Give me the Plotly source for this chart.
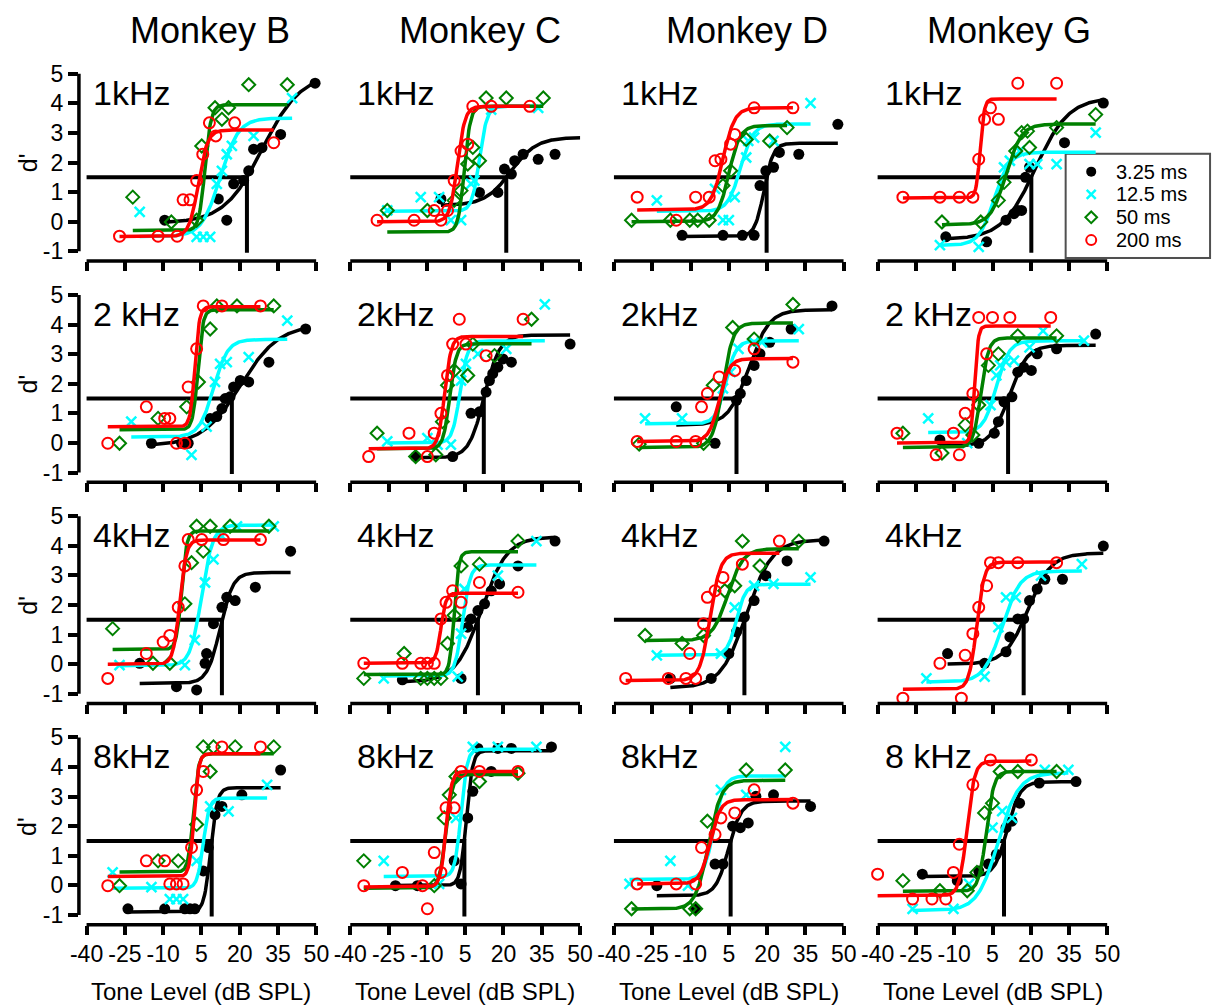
import numpy as np
import plotly.graph_objects as go

# ---------------------------------------------------------------- labels
MONKEYS = ["Monkey B", "Monkey C", "Monkey D", "Monkey G"]
PANEL_LABELS = [
    ["1kHz", "1kHz", "1kHz", "1kHz"],
    ["2 kHz", "2kHz", "2kHz", "2 kHz"],
    ["4kHz", "4kHz", "4kHz", "4kHz"],
    ["8kHz", "8kHz", "8kHz", "8 kHz"],
]
DURATIONS = ["3.25 ms", "12.5 ms", "50 ms", "200 ms"]
X_TICKS = [-40, -25, -10, 5, 20, 35, 50]
Y_TICKS = [-1, 0, 1, 2, 3, 4, 5]
X_TITLE = "Tone Level (dB SPL)"
Y_TITLE = "d'"
CRITERION = 1.5          # d' criterion used for threshold
FLOOR = -1.05            # lower end of the threshold drop line

# ---------------------------------------------------------------- data
# each panel: duration -> (tone levels dB SPL, d')
b_1k = {
    "3.25 ms": ([-9.4, 11.6, 14.9, 17.6, 21.5, 23.5, 25.4, 28.7, 36.0, 49.5],
                [0.05, 0.77, 0.05, 1.28, 1.39, 1.72, 2.45, 2.5, 2.95, 4.68]),
    "12.5 ms": ([-19.2, 3.1, 5.7, 8.4, 11.0, 13.0, 14.9, 16.9, 25.4, 40.5],
                [0.33, -0.51, -0.51, -0.51, 1.28, 1.72, 2.28, 2.56, 2.9, 4.18]),
    "50 ms": ([-21.9, -6.8, 3.1, 5.1, 10.3, 13.0, 15.6, 23.5, 38.6],
              [0.83, -0.01, 0.05, 2.56, 3.85, 3.46, 3.85, 4.63, 4.63]),
    "200 ms": ([-27.1, -12.0, -4.5, -2.2, 0.5, 3.1, 5.5, 8.1, 10.6, 18.0, 33.3],
               [-0.49, -0.49, -0.49, 0.74, 0.74, 1.39, 2.28, 3.34, 2.9, 3.34, 2.67]),
}
c_1k = {
    "3.25 ms": ([-4.5, 10.6, 17.8, 20.4, 23.1, 24.4, 27.7, 33.6, 40.2, 55.0],
                [0.77, 0.99, 0.99, 1.78, 1.61, 2.06, 2.28, 2.11, 2.28, 3.34]),
    "12.5 ms": ([-25.5, -12.4, -5.2, -0.6, 3.4, 7.3, 8.6, 15.2, 33.6],
                [0.38, 0.83, 0.83, 0.05, 0.05, 1.28, 1.39, 3.79, 3.85]),
    "50 ms": ([-25.5, -9.8, 0.7, 3.4, 6.0, 8.0, 10.6, 13.2, 21.1, 35.6],
              [0.38, 0.38, 0.72, 1.05, 1.95, 2.51, 2.06, 4.18, 4.18, 4.18]),
    "200 ms": ([-29.5, -15.0, -7.1, -4.5, -1.9, 0.7, 3.4, 6.0, 8.0, 15.2, 30.3],
               [0.05, 0.05, 0.38, 0.05, 0.38, 1.39, 2.39, 2.62, 3.9, 3.9, 3.9]),
}
d_1k = {
    "3.25 ms": ([-13.3, 2.7, 10.3, 14.9, 17.2, 19.5, 22.5, 24.8, 32.4, 47.7],
                [-0.46, -0.46, -0.46, -0.46, 1.22, 1.72, 1.84, 2.34, 2.28, 3.29]),
    "12.5 ms": ([-23.2, -0.4, 2.7, 5.0, 7.3, 11.8, 12.6, 14.9, 22.5, 37.0],
                [0.72, 1.11, 0.05, 0.05, 0.83, 2.17, 2.73, 2.84, 2.73, 4.01]),
    "50 ms": ([-33.1, -17.9, -10.3, -7.2, -2.7, 2.7, 5.7, 11.8, 21.0, 27.8],
              [0.05, 0.05, 0.05, 0.05, 0.05, 1.22, 1.72, 2.78, 2.73, 3.18]),
    "200 ms": ([-30.9, -15.6, -8.0, -2.7, -0.4, 1.9, 5.7, 7.3, 14.9, 30.1],
               [0.83, 0.05, 0.83, 0.83, 2.06, 2.11, 2.62, 2.95, 3.85, 3.85]),
}
g_1k = {
    "3.25 ms": ([-13.3, 2.7, 10.3, 13.4, 14.9, 16.4, 17.9, 19.5, 33.2, 48.4],
                [-0.51, -0.68, 0.05, 0.27, 0.38, 0.38, 1.5, 1.84, 2.67, 4.01]),
    "12.5 ms": ([-15.6, -0.4, 9.5, 11.8, 15.6, 19.5, 22.5, 30.1, 45.4],
                [-0.79, -0.85, 1.84, 2.06, 2.39, 1.95, 1.95, 1.95, 3.01]),
    "50 ms": ([-14.8, 0.4, 7.3, 9.5, 14.1, 16.4, 18.7, 19.5, 30.1, 45.4],
              [-0.01, -0.01, 0.72, 1.33, 2.39, 3.01, 3.06, 2.51, 3.18, 3.62]),
    "200 ms": ([-30.1, -15.6, -8.0, -2.7, -0.4, 1.9, 4.2, 7.3, 14.9, 30.1],
               [0.83, 0.83, 0.83, 0.83, 2.11, 3.46, 3.85, 3.46, 4.68, 4.68]),
}
b_2k = {
    "3.25 ms": ([-14.6, -2.8, -0.2, 8.4, 11.0, 13.0, 14.3, 16.2, 17.6, 20.2, 23.5, 31.4, 45.8],
                [-0.01, -0.01, -0.01, 0.83, 0.89, 1.16, 1.5, 1.56, 1.89, 2.11, 2.06, 2.73, 3.85]),
    "12.5 ms": ([-22.5, 1.1, 7.0, 10.3, 12.3, 14.9, 23.5, 38.6],
                [0.72, -0.4, 0.55, 2.06, 2.67, 2.73, 2.9, 4.13]),
    "50 ms": ([-27.1, -12.0, -0.8, 3.8, 8.4, 11.0, 18.9, 33.3],
              [-0.01, 0.83, 1.22, 2.06, 3.85, 4.63, 4.63, 4.63]),
    "200 ms": ([-31.7, -16.6, -9.4, -7.4, -4.8, -1.5, -0.2, 3.1, 5.7, 13.0, 28.1],
               [-0.01, 1.22, 0.83, 0.83, -0.01, -0.01, 1.89, 3.18, 4.63, 4.63, 4.63]),
}
c_2k = {
    "3.25 ms": ([-14.4, 0.1, 7.3, 10.6, 13.2, 14.5, 15.8, 17.8, 19.8, 23.1, 46.1],
                [-0.46, -0.46, 1.0, 1.05, 1.72, 2.11, 2.34, 2.56, 2.84, 2.73, 3.34]),
    "12.5 ms": ([-25.5, -9.8, -5.8, -0.6, 3.4, 5.3, 10.0, 21.1, 36.2],
                [0.05, 0.16, -0.06, -0.06, 2.11, 2.67, 3.01, 3.18, 4.68]),
    "50 ms": ([-29.5, -14.4, -6.5, -3.9, -1.9, 0.7, 6.0, 8.0, 16.5, 31.0],
              [0.33, -0.46, -0.4, 0.72, 1.95, 2.45, 2.28, 3.34, 2.95, 4.18]),
    "200 ms": ([-32.8, -17.0, -9.8, -7.1, -4.5, -1.9, 0.1, 2.7, 5.3, 13.2, 27.7],
               [-0.46, 0.33, -0.46, 0.33, 1.0, 2.28, 3.34, 4.18, 3.34, 2.95, 4.18]),
}
d_2k = {
    "3.25 ms": ([-15.6, -0.4, 8.0, 9.5, 11.8, 14.9, 17.2, 21.0, 29.4, 45.4],
                [1.22, -0.01, 1.44, 1.67, 2.11, 2.62, 3.01, 3.4, 3.85, 4.63]),
    "12.5 ms": ([-27.8, -13.3, 2.7, 5.7, 8.8, 14.9, 17.9, 32.4],
                [0.83, 0.83, 1.84, 2.39, 3.18, 3.4, 3.4, 3.85]),
    "50 ms": ([-30.1, -4.9, -1.1, 6.5, 14.9, 30.1],
              [-0.04, -0.01, 1.95, 3.9, 3.51, 4.68]),
    "200 ms": ([-30.9, -15.6, -8.0, -5.7, -3.4, 1.2, 7.3, 14.9, 30.1],
               [0.05, 0.05, 0.05, 1.22, 1.67, 2.23, 2.45, 3.18, 2.73]),
}
g_2k = {
    "3.25 ms": ([-15.6, -0.4, 5.7, 7.3, 9.5, 12.6, 14.9, 17.2, 20.2, 22.5, 30.1, 45.4],
                [0.1, -0.01, 0.33, 0.72, 1.39, 1.56, 2.39, 2.56, 2.45, 3.01, 3.18, 3.68]),
    "12.5 ms": ([-20.2, -4.9, 4.2, 6.5, 8.0, 10.3, 13.4, 19.5, 24.8, 40.8],
                [0.83, -0.01, 1.28, 2.28, 2.62, 2.73, 2.78, 3.23, 3.79, 3.46]),
    "50 ms": ([-30.1, -14.8, -5.7, -2.7, -0.4, 3.4, 7.3, 14.9, 30.1],
              [0.33, -0.34, 0.61, 0.27, 1.28, 2.62, 3.01, 3.62, 3.62]),
    "200 ms": ([-32.4, -17.1, -10.3, -8.0, -5.7, -2.7, 2.7, -0.4, 5.0, 11.8, 27.8],
               [0.33, -0.4, 0.33, -0.4, 1.0, 1.67, 3.01, 4.24, 4.24, 4.24, 4.24]),
}
b_4k = {
    "3.25 ms": ([-19.2, -4.8, 3.1, 6.4, 7.0, 9.7, 13.0, 14.9, 18.2, 26.1, 39.9],
                [0.03, -0.76, -0.87, 0.03, 0.36, 1.37, 1.92, 2.26, 2.15, 2.6, 3.82]),
    "12.5 ms": ([-27.1, -1.5, 2.4, 6.4, 9.7, 13.0, 18.9, 33.3],
                [-0.03, -0.03, 0.81, 2.76, 3.54, 4.33, 4.66, 4.66]),
    "50 ms": ([-29.8, -14.0, -7.4, -1.5, 1.1, 5.7, 3.1, 8.4, 16.2, 31.4],
              [1.2, 0.03, 0.03, 2.04, 3.43, 3.82, 4.66, 4.66, 4.66, 4.66]),
    "200 ms": ([-31.7, -16.6, -10.0, -7.4, -4.1, -1.5, -0.2, 5.1, 13.6, 28.1],
               [-0.48, 0.36, 0.75, 0.97, 1.92, 3.32, 4.21, 4.21, 4.21, 4.21]),
}
c_4k = {
    "3.25 ms": ([-19.6, 3.4, 6.0, 7.3, 10.0, 12.6, 15.2, 18.5, 25.7, 40.2],
                [-0.53, -0.48, 1.25, 1.53, 1.81, 2.04, 2.48, 2.71, 3.32, 4.16]),
    "12.5 ms": ([-26.9, 2.1, 3.4, 4.7, 17.8, 32.9],
                [-0.48, -0.42, 1.03, 2.54, 2.99, 4.16]),
    "50 ms": ([-34.7, -18.9, -12.4, -9.8, -7.1, -4.5, -1.9, 0.7, 3.4, 10.6, 25.7],
              [-0.48, 0.36, -0.48, -0.48, -0.48, -0.48, 0.7, 1.65, 3.32, 3.38, 4.16]),
    "200 ms": ([-34.7, -19.6, -12.4, -9.8, -7.1, -4.5, -2.5, 0.1, 3.4, 10.6, 25.7],
               [0.03, 0.03, 0.03, 0.03, 0.03, 1.53, 2.09, 2.48, 2.09, 2.76, 2.43]),
}
d_4k = {
    "3.25 ms": ([-17.9, -1.9, 5.0, 8.0, 11.1, 14.9, 19.5, 27.8, 42.3],
                [-0.48, -0.48, 0.36, 1.09, 1.59, 2.15, 2.99, 3.49, 4.16]),
    "12.5 ms": ([-23.2, 1.9, 7.3, 14.9, 22.5, 37.0],
                [0.3, 0.36, 1.92, 2.65, 2.71, 2.93]),
    "50 ms": ([-27.8, -13.3, -4.9, 3.4, 7.3, 17.2, 10.3, 32.4],
              [0.97, 0.7, 0.97, 2.48, 2.65, 3.32, 4.16, 4.16]),
    "200 ms": ([-35.4, -18.7, -11.8, -8.0, -10.3, -4.9, -3.4, -0.4, 2.7, 10.3, 24.8],
               [-0.48, -0.48, -0.48, -0.48, 0.36, 1.37, 2.26, 2.48, 2.93, 3.38, 4.16]),
}
g_4k = {
    "3.25 ms": ([-12.6, 1.9, 10.3, 11.8, 14.9, 17.2, 19.5, 22.5, 25.5, 32.4, 48.4],
                [0.36, 0.03, 0.42, 0.92, 1.53, 1.53, 2.15, 2.54, 2.87, 2.87, 3.99]),
    "12.5 ms": ([-20.9, 1.9, 7.3, 10.3, 14.1, 24.0, 40.0],
                [-0.48, -0.42, 1.25, 2.26, 2.26, 2.99, 3.38]),
    "200 ms": ([-30.1, -15.6, -7.2, -5.7, -2.7, -0.4, 2.7, 4.2, 7.3, 14.9, 30.1],
               [-1.15, 0.03, -1.15, 0.3, 1.03, 1.92, 2.65, 3.43, 3.43, 3.43, 3.43]),
}
b_8k = {
    "3.25 ms": ([-23.8, -9.4, -1.5, 0.5, 2.4, 5.7, 7.7, 10.3, 13.0, 20.8, 36.0],
                [-0.79, -0.79, -0.79, -0.79, -0.79, 0.49, 1.28, 2.39, 2.67, 3.06, 3.9]),
    "12.5 ms": ([-29.8, -14.6, -7.4, -4.8, -2.2, 3.1, 8.4, 15.6, 30.7],
                [0.44, -0.06, -0.46, -0.46, -0.46, 0.83, 2.67, 2.5, 3.4]),
    "50 ms": ([-27.1, -12.0, -4.1, 3.1, 8.4, 5.7, 9.7, 18.2, 33.3],
              [-0.01, 0.83, 0.83, 2.06, 3.85, 4.68, 4.68, 4.68, 4.68]),
    "200 ms": ([-31.7, -16.6, -9.4, -7.4, -4.8, -2.2, 1.1, 3.1, 5.7, 13.0, 28.1],
               [-0.01, 0.83, 0.83, 0.05, 0.05, 0.05, 1.28, 3.23, 3.85, 4.68, 4.68]),
}
c_8k = {
    "3.25 ms": ([-22.3, -13.7, 0.7, 3.4, 6.0, 8.0, 10.0, 15.2, 17.8, 23.1, 38.8],
                [-0.01, -0.01, 0.83, 0.05, 2.28, 3.18, 4.63, 3.85, 4.63, 4.63, 4.68]),
    "12.5 ms": ([-26.9, -5.2, 1.4, 8.0, 17.8, 32.9],
                [0.83, 0.05, 2.28, 4.68, 4.68, 4.68]),
    "50 ms": ([-34.7, -7.1, -3.2, -1.2, 1.4, 10.6, 25.7],
              [0.83, -0.01, 2.28, 3.06, 3.68, 3.51, 3.79]),
    "200 ms": ([-34.7, -19.6, -11.7, -9.8, -7.1, -4.5, -2.5, 0.7, 3.4, 10.6, 25.7],
               [-0.01, 0.44, -0.01, -0.79, 1.11, 0.44, 2.62, 2.62, 3.85, 3.85, 3.85]),
}
d_8k = {
    "3.25 ms": ([-23.2, -8.0, -0.4, 2.7, 6.5, 9.5, 12.6, 15.6, 22.5, 37.0],
                [-0.01, -0.79, 0.72, 0.72, 2.0, 1.95, 2.11, 3.01, 3.06, 2.67]),
    "12.5 ms": ([-33.9, -17.9, -11.0, 1.9, 11.8, 27.1],
                [0.05, 0.83, -0.01, 3.23, 3.06, 4.68]),
    "50 ms": ([-33.1, -10.3, -8.0, -3.4, 11.8, 27.1],
              [-0.79, -0.79, -0.79, 2.17, 3.9, 3.9]),
    "200 ms": ([-30.9, -15.6, -8.0, -5.7, -0.4, 1.9, 7.3, 14.9, 30.1],
               [0.05, 0.05, 0.05, 1.28, 1.72, 2.28, 2.45, 3.23, 2.78]),
}
g_8k = {
    "3.25 ms": ([-22.5, -8.8, -0.4, 3.4, 6.5, 10.3, 12.6, 15.6, 23.3, 37.7],
                [0.38, 0.16, 0.49, 0.72, 1.05, 1.95, 2.17, 2.78, 3.46, 3.51]),
    "12.5 ms": ([-26.3, -10.3, -4.2, 5.0, 8.8, 12.6, 25.5, 34.7],
                [-0.79, -0.79, 0.05, 1.95, 2.51, 2.28, 3.9, 3.9]),
    "50 ms": ([-30.1, -15.6, -4.9, -1.1, 1.9, 5.0, 8.0, 14.9, 30.1],
              [0.16, -0.18, -0.18, 0.44, 2.45, 2.78, 3.85, 3.85, 3.85]),
    "200 ms": ([-40.0, -26.3, -18.7, -13.3, -10.3, -8.0, -2.7, 4.2, 20.2],
               [0.38, -0.46, -0.46, -0.46, 0.44, 1.39, 3.4, 4.24, 4.24]),
}

# logistic fit parameters per panel: duration -> (floor, ceiling, midpoint dB, slope dB)
b_1k_fit = {"3.25 ms": (-0.05, 5.0, 28.9, 7.5), "12.5 ms": (-0.5, 3.5, 12.3, 3.6),
            "50 ms": (-0.3, 3.95, 6.4, 1.2), "200 ms": (-0.5, 3.1, 3.8, 1.8)}
c_1k_fit = {"3.25 ms": (0.55, 2.85, 22.9, 5.0), "12.5 ms": (0.35, 3.9, 10.6, 1.5),
            "50 ms": (-0.35, 3.9, 4.7, 1.2), "200 ms": (0.0, 3.9, 2.0, 1.5)}
d_1k_fit = {"3.25 ms": (-0.5, 2.65, 18.8, 1.8), "12.5 ms": (0.35, 3.3, 9.6, 2.5),
            "50 ms": (0.0, 3.25, 5.0, 2.2), "200 ms": (0.4, 3.85, 2.7, 2.3)}
g_1k_fit = {"3.25 ms": (-0.6, 4.2, 21.8, 6.5), "12.5 ms": (-0.8, 2.35, 5.7, 3.0),
            "50 ms": (-0.1, 3.3, 10.3, 3.0), "200 ms": (0.8, 4.15, 0.2, 0.8)}
b_2k_fit = {"3.25 ms": (-0.1, 4.0, 20.3, 7.5), "12.5 ms": (0.2, 3.5, 9.7, 2.8),
            "50 ms": (0.45, 4.5, 3.6, 1.0), "200 ms": (0.55, 4.6, 2.4, 0.9)}
c_2k_fit = {"3.25 ms": (-0.5, 3.65, 12.5, 3.0), "12.5 ms": (0.0, 3.45, 3.0, 1.5),
            "50 ms": (-0.2, 3.35, -1.0, 1.3), "200 ms": (-0.2, 3.6, -3.0, 1.3)}
d_2k_fit = {"3.25 ms": (0.6, 4.5, 12.8, 4.0), "12.5 ms": (0.65, 3.45, 3.8, 2.0),
            "50 ms": (-0.15, 4.05, 2.7, 2.0), "200 ms": (0.05, 2.85, 1.2, 2.0)}
g_2k_fit = {"3.25 ms": (-0.1, 3.3, 11.5, 3.5), "12.5 ms": (0.35, 3.45, 6.5, 2.5),
            "50 ms": (-0.15, 3.55, 0.5, 1.5), "200 ms": (0.0, 3.95, -2.0, 0.7)}
b_4k_fit = {"3.25 ms": (-0.65, 3.1, 12.3, 2.5), "12.5 ms": (-0.05, 4.7, 5.1, 2.2),
            "50 ms": (0.5, 4.5, -2.8, 1.0), "200 ms": (0.0, 4.2, -3.5, 1.3)}
c_4k_fit = {"3.25 ms": (-0.6, 4.3, 11.4, 5.0), "12.5 ms": (-0.4, 3.35, 4.0, 1.5),
            "50 ms": (-0.35, 3.8, 0.7, 0.9), "200 ms": (0.03, 2.4, -4.5, 1.0)}
d_4k_fit = {"3.25 ms": (-0.8, 4.2, 11.9, 5.0), "12.5 ms": (0.3, 2.7, 8.0, 1.8),
            "50 ms": (0.8, 3.9, 4.6, 3.0), "200 ms": (-0.55, 3.75, -2.3, 2.0)}
g_4k_fit = {"3.25 ms": (0.0, 3.75, 19.0, 4.5), "12.5 ms": (-0.6, 3.15, 8.7, 3.5),
            "200 ms": (-0.85, 3.45, -1.2, 1.5)}
b_8k_fit = {"3.25 ms": (-0.9, 3.3, 8.6, 1.3), "12.5 ms": (-0.1, 2.95, 5.7, 1.2),
            "50 ms": (0.45, 4.45, 1.8, 1.0), "200 ms": (0.3, 4.45, 2.1, 0.9)}
c_8k_fit = {"3.25 ms": (0.0, 4.55, 5.5, 1.2), "12.5 ms": (0.3, 4.6, 3.4, 1.2),
            "50 ms": (-0.1, 3.75, -2.5, 1.3), "200 ms": (-0.05, 3.85, -2.5, 1.1)}
d_8k_fit = {"3.25 ms": (-0.35, 2.85, 4.9, 2.5), "12.5 ms": (0.2, 3.7, -0.8, 2.0),
            "50 ms": (-0.8, 3.55, -3.0, 2.5), "200 ms": (0.05, 2.9, -2.3, 2.0)}
g_8k_fit = {"3.25 ms": (0.3, 3.5, 10.8, 2.5), "12.5 ms": (-0.85, 3.8, 7.2, 4.0),
            "50 ms": (-0.2, 3.85, 2.6, 1.5), "200 ms": (-0.35, 4.2, -5.0, 1.5)}

# threshold (dB SPL) of the 3.25 ms function at d' = 1.5, rows = frequency, cols = monkey
THRESHOLDS = [
    [22.8, 21.1, 19.8, 20.2],
    [16.9, 12.3, 8.0, 11.1],
    [13.0, 10.0, 11.1, 17.2],
    [9.0, 4.7, 5.7, 9.5],
]

PANELS = [
    [b_1k, c_1k, d_1k, g_1k],
    [b_2k, c_2k, d_2k, g_2k],
    [b_4k, c_4k, d_4k, g_4k],
    [b_8k, c_8k, d_8k, g_8k],
]
FITS = [
    [b_1k_fit, c_1k_fit, d_1k_fit, g_1k_fit],
    [b_2k_fit, c_2k_fit, d_2k_fit, g_2k_fit],
    [b_4k_fit, c_4k_fit, d_4k_fit, g_4k_fit],
    [b_8k_fit, c_8k_fit, d_8k_fit, g_8k_fit],
]

# ---------------------------------------------------------------- styling
FONT = "Liberation Sans, Arial, Helvetica, sans-serif"
W, H = 1225, 1007
COLORS = {"3.25 ms": "#000000", "12.5 ms": "#00FFFF", "50 ms": "#008000", "200 ms": "#FF0000"}
MARKERS = {
    "3.25 ms": dict(symbol="circle", size=11, color="#000000", line=dict(width=0)),
    "12.5 ms": dict(symbol="x-thin", size=10, color="#00FFFF",
                    line=dict(width=2.5, color="#00FFFF")),
    "50 ms": dict(symbol="diamond-open", size=10, color="#008000", line=dict(width=2)),
    "200 ms": dict(symbol="circle-open", size=11, color="#FF0000", line=dict(width=2)),
}
AXIS_W = 3.5
X_RANGE = [-43, 50]
Y_RANGE = [-1.33, 5.25]

# pixel geometry of the grid
COL_X40 = 79.0       # pixel of -40 dB in the first column
COL_STEP = 268.5
PX_PER_DB = 2.6
ROW_Y5 = 69.3        # pixel of d' = 5 in the first row
ROW_STEP = 223.0
PX_PER_D = 29.83


def px(xp):
    return xp / W


def py(yp):
    return 1 - yp / H


def logistic(x, lo, hi, mid, slope):
    return lo + (hi - lo) / (1.0 + np.exp(-(x - mid) / slope))


fig = go.Figure()
layout = {}
shapes = []
annotations = []

for r in range(4):
    y5 = ROW_Y5 + ROW_STEP * r
    top = y5 - (Y_RANGE[1] - 5) * PX_PER_D
    bottom = y5 + (5 - Y_RANGE[0]) * PX_PER_D
    for c in range(4):
        n = r * 4 + c + 1
        sx = "" if n == 1 else str(n)
        x40 = COL_X40 + COL_STEP * c
        left = x40 - (-40 - X_RANGE[0]) * PX_PER_DB
        right = x40 + (X_RANGE[1] + 40) * PX_PER_DB

        bottom_row = r == 3
        layout["xaxis" + sx] = dict(
            domain=[px(left), px(right)], range=X_RANGE, anchor="y" + sx,
            showgrid=False, zeroline=False, showline=False,
            ticks="outside", ticklen=9, tickwidth=AXIS_W, tickcolor="black",
            tickmode="array", tickvals=X_TICKS, ticktext=[str(v) for v in X_TICKS],
            showticklabels=bottom_row, tickfont=dict(size=23, family=FONT, color="black"),
            fixedrange=True,
        )
        first_col = c == 0
        layout["yaxis" + sx] = dict(
            domain=[py(bottom), py(top)], range=Y_RANGE, anchor="x" + sx,
            showgrid=False, zeroline=False, showline=False,
            ticks="outside" if first_col else "", ticklen=10, tickwidth=AXIS_W,
            tickcolor="black", tickmode="array", tickvals=Y_TICKS,
            ticktext=[str(v) for v in Y_TICKS], showticklabels=first_col,
            tickfont=dict(size=23, family=FONT, color="black"), fixedrange=True,
        )

        # x axis line from -40 to 50 along the bottom of the panel
        shapes.append(dict(type="line", xref="x" + sx, yref="y" + sx + " domain",
                           x0=X_TICKS[0], x1=X_TICKS[-1], y0=0, y1=0,
                           line=dict(color="black", width=AXIS_W)))
        if first_col:
            shapes.append(dict(type="line", xref="x" + sx + " domain", yref="y" + sx,
                               x0=0, x1=0, y0=Y_TICKS[0], y1=Y_TICKS[-1],
                               line=dict(color="black", width=AXIS_W)))

        # threshold criterion and drop line
        thr = THRESHOLDS[r][c]
        fig.add_trace(go.Scatter(
            x=[X_TICKS[0], thr, thr], y=[CRITERION, CRITERION, FLOOR],
            mode="lines", line=dict(color="black", width=4),
            xaxis="x" + sx, yaxis="y" + sx, showlegend=False, hoverinfo="skip"))

        panel = PANELS[r][c]
        fits = FITS[r][c]
        for dur in DURATIONS:
            if dur not in panel:
                continue
            xs, ys = panel[dur]
            lo, hi, mid, slope = fits[dur]
            xf = np.linspace(min(xs), max(xs), 200)
            fig.add_trace(go.Scatter(
                x=xf, y=logistic(xf, lo, hi, mid, slope), mode="lines",
                line=dict(color=COLORS[dur], width=3.5),
                xaxis="x" + sx, yaxis="y" + sx, showlegend=False, hoverinfo="skip"))
            fig.add_trace(go.Scatter(
                x=xs, y=ys, mode="markers", marker=MARKERS[dur], name=dur,
                xaxis="x" + sx, yaxis="y" + sx, showlegend=False, cliponaxis=False))

        # frequency label inside each panel
        annotations.append(dict(
            text=PANEL_LABELS[r][c], xref="paper", yref="paper",
            x=px(x40 + 5), y=py(y5 + 19), xanchor="left", yanchor="middle",
            showarrow=False, font=dict(size=34, family=FONT, color="black")))

        if bottom_row:
            annotations.append(dict(
                text=X_TITLE, xref="paper", yref="paper",
                x=px(x40 + 117), y=py(994), xanchor="center", yanchor="middle",
                showarrow=False, font=dict(size=24, family=FONT, color="black")))
        if first_col:
            annotations.append(dict(
                text=Y_TITLE, xref="paper", yref="paper", textangle=-90,
                x=px(19), y=py(y5 + 89.5), xanchor="center", yanchor="middle",
                showarrow=False, font=dict(size=25, family=FONT, color="black")))

# monkey titles
TITLE_X = [205, 480, 752, 1018]
for c, name in enumerate(MONKEYS):
    annotations.append(dict(
        text=name, xref="paper", yref="paper", x=px(TITLE_X[c]), y=py(26),
        xanchor="center", yanchor="middle", showarrow=False,
        font=dict(size=36, family=FONT, color="black")))

# legend box with its own pixel-unit axes
LEG = dict(x0=1077, x1=1222, y0=151, y1=254)
shapes.append(dict(type="rect", xref="paper", yref="paper", layer="below",
                   x0=px(LEG["x0"]), x1=px(LEG["x1"]), y0=py(LEG["y1"]), y1=py(LEG["y0"]),
                   fillcolor="white", line=dict(color="#505050", width=4)))
layout["xaxis17"] = dict(domain=[px(LEG["x0"]), px(LEG["x1"])], range=[LEG["x0"], LEG["x1"]],
                         visible=False, anchor="y17", fixedrange=True)
layout["yaxis17"] = dict(domain=[py(LEG["y1"]), py(LEG["y0"])], range=[LEG["y1"], LEG["y0"]],
                         visible=False, anchor="x17", fixedrange=True)
LEG_ROWS = [168, 191, 214, 237]
for dur, yrow in zip(DURATIONS, LEG_ROWS):
    mk = dict(MARKERS[dur])
    mk["size"] = mk["size"] - 1
    fig.add_trace(go.Scatter(x=[1102], y=[yrow], mode="markers", marker=mk,
                             xaxis="x17", yaxis="y17", showlegend=False,
                             hoverinfo="skip", cliponaxis=False))
    annotations.append(dict(
        text=dur, xref="paper", yref="paper", x=px(1126), y=py(yrow),
        xanchor="left", yanchor="middle", showarrow=False, borderpad=0,
        font=dict(size=20, family=FONT, color="black")))

fig.update_layout(
    width=W, height=H, margin=dict(l=0, r=0, t=0, b=0),
    paper_bgcolor="white", plot_bgcolor="white",
    shapes=shapes, annotations=annotations, showlegend=False,
    font=dict(family=FONT, color="black"),
    **layout,
)

fig.write_html("out.html")
